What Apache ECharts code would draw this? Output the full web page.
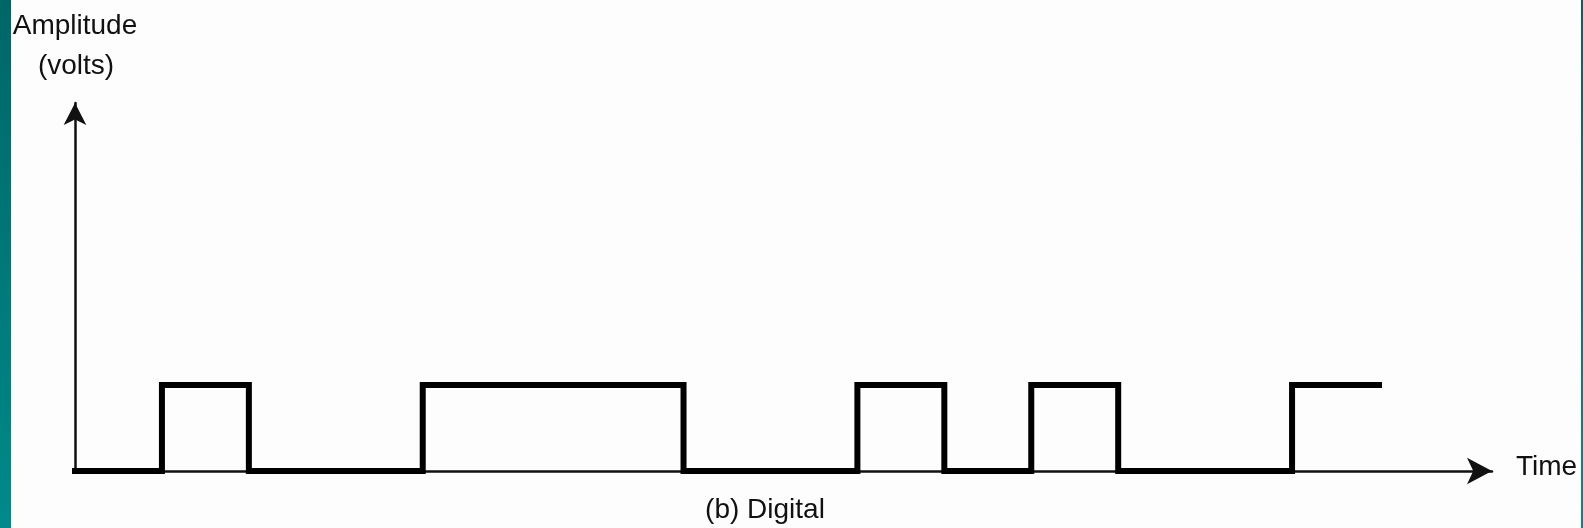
<!DOCTYPE html>
<html>
<head>
<meta charset="utf-8">
<script src="https://cdn.jsdelivr.net/npm/echarts@6/dist/echarts.min.js"></script>
<style>
html,body{margin:0;padding:0;background:#fdfdfd;}
#c{width:1583px;height:528px;}
</style>
</head>
<body>
<div id="c"></div>
<script>
// Bit levels of the digital signal, one per time slot
const bits = [0, 1, 0, 0, 1, 1, 1, 0, 0, 1, 0, 1, 0, 0, 1];
const yAxisTitle = ['Amplitude', '(volts)'];
const xAxisTitle = 'Time';
const caption = '(b) Digital';

const signal = bits.map((b, i) => [i, b]);
signal.push([bits.length, bits[bits.length - 1]]);

const FONT = 'Liberation Sans, Arial, sans-serif';
const chart = echarts.init(document.getElementById('c'), null, {renderer: 'canvas'});
chart.setOption({
  backgroundColor: '#fdfdfd',
  animation: false,
  grid: {left: 75, right: 91, top: 103, bottom: 57},
  xAxis: {
    type: 'value', min: 0, max: 16.3,
    axisLine: {show: true, symbol: ['none', 'arrow'], symbolSize: [20, 25], lineStyle: {color: '#111', width: 2.5}},
    axisTick: {show: false}, axisLabel: {show: false}, splitLine: {show: false}
  },
  yAxis: {
    type: 'value', min: 0, max: 4.28,
    axisLine: {show: true, symbol: ['none', 'arrow'], symbolSize: [17, 22], lineStyle: {color: '#111', width: 2.5}},
    axisTick: {show: false}, axisLabel: {show: false}, splitLine: {show: false}
  },
  series: [{
    type: 'line', step: 'end', data: signal, symbol: 'none',
    lineStyle: {color: '#000', width: 6, cap: 'square', join: 'miter'},
    z: 5
  }],
  graphic: [
    {type: 'rect', left: 0, top: 0, z: 100, shape: {width: 11, height: 528},
     style: {fill: new echarts.graphic.LinearGradient(0, 0, 0, 1, [{offset: 0, color: '#006666'}, {offset: 1, color: '#008a8a'}])}},
    {type: 'rect', left: 1581, top: 0, z: 100, shape: {width: 2, height: 528},
     style: {fill: new echarts.graphic.LinearGradient(0, 0, 0, 1, [{offset: 0, color: '#006666'}, {offset: 1, color: '#008a8a'}])}},
    {type: 'text', x: 75, y: 26, style: {text: yAxisTitle[0], font: '28px ' + FONT, fill: '#111', align: 'center', verticalAlign: 'middle'}},
    {type: 'text', x: 76, y: 66, style: {text: yAxisTitle[1], font: '28px ' + FONT, fill: '#111', align: 'center', verticalAlign: 'middle'}},
    {type: 'text', x: 1516, y: 467, style: {text: xAxisTitle, font: '28px ' + FONT, fill: '#111', align: 'left', verticalAlign: 'middle'}},
    {type: 'text', x: 765, y: 510, style: {text: caption, font: '28px ' + FONT, fill: '#111', align: 'center', verticalAlign: 'middle'}}
  ]
});
</script>
</body>
</html>
